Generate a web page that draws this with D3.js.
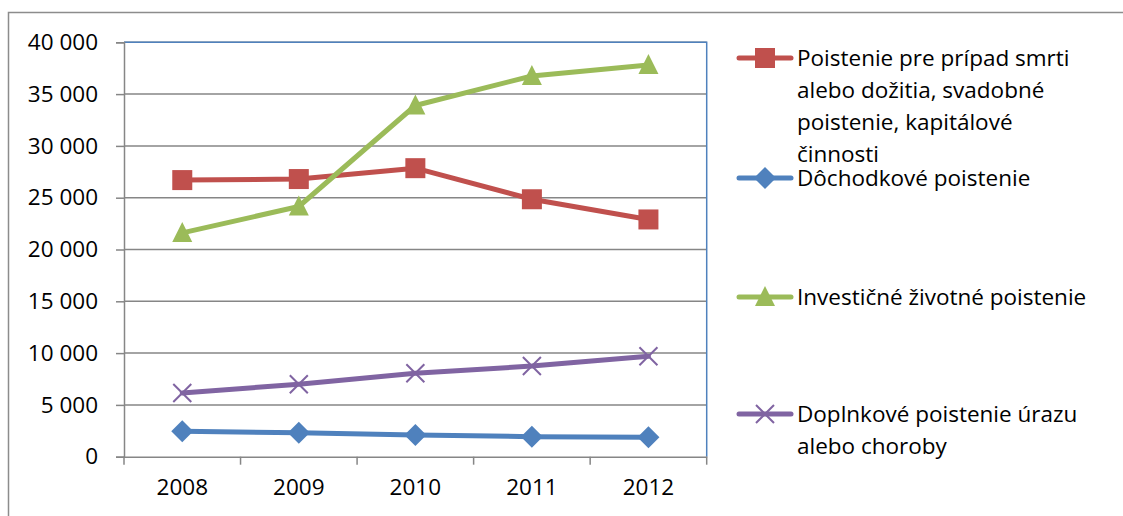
<!DOCTYPE html>
<html>
<head>
<meta charset="utf-8">
<script src="https://cdn.jsdelivr.net/npm/d3@7"></script>
<style>
  html, body { margin: 0; padding: 0; background: #fff; }
  svg { display: block; }
  text { font-family: "Open Sans", sans-serif; fill: #000; font-variant-ligatures: none; }
</style>
</head>
<body>
<svg id="chart" width="1123" height="516"></svg>
<script>
// Years on the category axis
const years = ["2008", "2009", "2010", "2011", "2012"];

// Premiums per insurance type
const zivotSmrt   = [26700, 26800, 27850, 24850, 22900];
const dochodkove  = [2450, 2300, 2100, 1930, 1870];
const investicne  = [21600, 24150, 33900, 36750, 37800];
const doplnkove   = [6150, 7000, 8050, 8750, 9700];

// Y axis ticks
const yTicks = [0, 5000, 10000, 15000, 20000, 25000, 30000, 35000, 40000];

const seriesNames = [
  ["Poistenie pre prípad smrti", "alebo dožitia, svadobné", "poistenie, kapitálové", "činnosti"],
  ["Dôchodkové poistenie"],
  ["Investičné životné poistenie"],
  ["Doplnkové poistenie úrazu", "alebo choroby"]
];

const series = [
  { values: zivotSmrt,  color: "#C0504D", marker: "square" },
  { values: dochodkove, color: "#4F81BD", marker: "diamond" },
  { values: investicne, color: "#9BBB59", marker: "triangle" },
  { values: doplnkove,  color: "#8064A2", marker: "cross" }
];

const FONT = 22.5;
const svg = d3.select("#chart");

// Outer chart frame (left and top edges visible)
svg.append("rect")
  .attr("x", 8.5).attr("y", 12.5)
  .attr("width", 1200).attr("height", 600)
  .attr("fill", "none").attr("stroke", "#8c8c8c").attr("stroke-width", 1.5);

const plot = { left: 124, top: 42.3, right: 706.7, bottom: 456.7 };

const x = d3.scaleBand().domain(years).range([plot.left, plot.right]);
const y = d3.scaleLinear().domain([0, 40000]).range([plot.bottom, plot.top]);

const fmt = v => d3.format(",")(v).replace(/,/g, "\u00a0");

// Horizontal gridlines
svg.append("g")
  .selectAll("line")
  .data(yTicks.filter(d => d > 0))
  .join("line")
  .attr("x1", plot.left).attr("x2", plot.right)
  .attr("y1", d => y(d)).attr("y2", d => y(d))
  .attr("stroke", "#868686").attr("stroke-width", 1.5);

// Plot area border: top and right in blue
svg.append("path")
  .attr("d", `M${plot.left},${plot.top}H${plot.right}V${plot.bottom}`)
  .attr("fill", "none").attr("stroke", "#4F81BD").attr("stroke-width", 1.5);

// Y axis
const yAxis = svg.append("g")
  .attr("transform", `translate(${plot.left},0)`)
  .call(d3.axisLeft(y).tickValues(yTicks).tickFormat(fmt).tickSize(8).tickPadding(18));
yAxis.select(".domain").attr("stroke", "#868686").attr("stroke-width", 1.5);
yAxis.selectAll(".tick line").attr("stroke", "#868686").attr("stroke-width", 1.5);
yAxis.selectAll(".tick text")
  .attr("font-family", "'Open Sans', sans-serif").attr("font-size", FONT).attr("fill", "#000");

// X axis with ticks on category boundaries
const xAxis = svg.append("g")
  .attr("transform", `translate(0,${plot.bottom})`)
  .call(d3.axisBottom(x).tickSize(0).tickPadding(22));
xAxis.select(".domain").attr("stroke", "#868686").attr("stroke-width", 1.5);
xAxis.selectAll(".tick text")
  .attr("font-family", "'Open Sans', sans-serif").attr("font-size", FONT).attr("fill", "#000");
const bounds = years.map(d => x(d)).concat([x(years[years.length - 1]) + x.bandwidth()]);
xAxis.append("g").selectAll("line")
  .data(bounds)
  .join("line")
  .attr("x1", d => d).attr("x2", d => d)
  .attr("y1", 0).attr("y2", 8)
  .attr("stroke", "#868686").attr("stroke-width", 1.5);

const cx = d => x(d) + x.bandwidth() / 2;

function drawMarker(g, type, color) {
  if (type === "square") {
    g.append("rect").attr("x", -10).attr("y", -10).attr("width", 20).attr("height", 20)
      .attr("fill", color);
  } else if (type === "diamond") {
    g.append("path").attr("d", "M0,-11L11,0L0,11L-11,0Z").attr("fill", color);
  } else if (type === "triangle") {
    g.append("path").attr("d", "M0,-11L10,9L-10,9Z").attr("fill", color);
  } else if (type === "cross") {
    g.append("path").attr("d", "M-9,-9L9,9M-9,9L9,-9")
      .attr("stroke", color).attr("stroke-width", 2).attr("fill", "none");
  }
}

const line = d3.line().x((d, i) => cx(years[i])).y(d => y(d));

series.forEach(s => {
  svg.append("path")
    .datum(s.values)
    .attr("d", line)
    .attr("fill", "none")
    .attr("stroke", s.color)
    .attr("stroke-width", 5)
    .attr("stroke-linejoin", "round")
    .attr("stroke-linecap", "round");
  s.values.forEach((v, i) => {
    const g = svg.append("g").attr("transform", `translate(${cx(years[i])},${y(v)})`);
    drawMarker(g, s.marker, s.color);
  });
});

// Legend
const legendY = [58, 178, 297, 414];
const lineGap = 32;
series.forEach((s, i) => {
  const g = svg.append("g").attr("transform", `translate(0,${legendY[i]})`);
  g.append("line").attr("x1", 739).attr("x2", 791).attr("y1", 0).attr("y2", 0)
    .attr("stroke", s.color).attr("stroke-width", 5).attr("stroke-linecap", "round");
  const mg = g.append("g").attr("transform", "translate(765,0)");
  drawMarker(mg, s.marker, s.color);
  seriesNames[i].forEach((t, j) => {
    g.append("text")
      .attr("x", 797).attr("y", j * lineGap)
      .attr("dy", "0.35em")
      .attr("font-size", FONT)
      .text(t);
  });
});
</script>
</body>
</html>
